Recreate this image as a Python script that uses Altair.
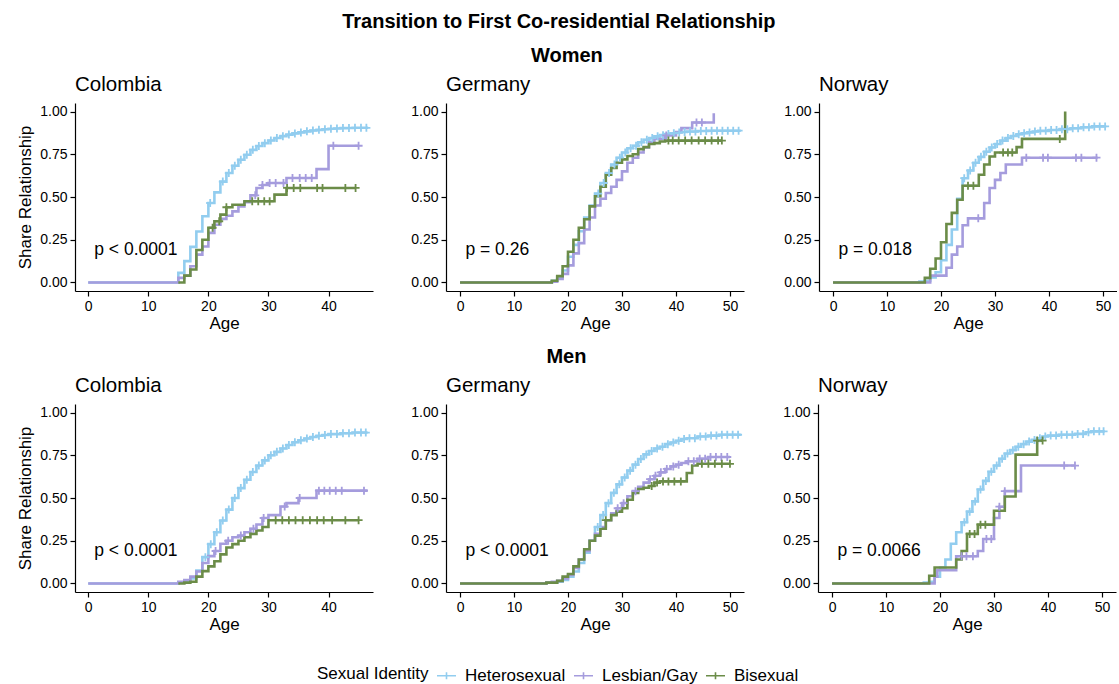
import altair as alt
import pandas as pd

FONT = "Liberation Sans"
GROUPS = ["Heterosexual", "Lesbian/Gay", "Bisexual"]
COLORS = ["#92CDEF", "#A59CDD", "#6B8C48"]
COUNTRIES = ["Colombia", "Germany", "Norway"]
SEXES = ["Women", "Men"]
PVAL_WOMEN = ["p < 0.0001", "p = 0.26", "p = 0.018"]
PVAL_MEN = ["p < 0.0001", "p < 0.0001", "p = 0.0066"]
Y_TICKS = [0.0, 0.25, 0.5, 0.75, 1.0]
X_TICKS_COL = [0, 10, 20, 30, 40]
X_TICKS_OTHER = [0, 10, 20, 30, 40, 50]

# ---------------- Women ----------------
# Colombia
w_col_het_t = [15, 16, 17, 18, 19, 20, 21, 22, 23, 24, 25, 26, 27, 28, 29, 30, 31, 32, 33, 34, 35, 36, 37, 38, 39, 40, 41, 42, 43, 44]
w_col_het_s = [0.056, 0.125, 0.208, 0.298, 0.387, 0.465, 0.527, 0.59, 0.64, 0.683, 0.718, 0.747, 0.776, 0.798, 0.815, 0.831, 0.845, 0.856, 0.865, 0.872, 0.878, 0.884, 0.889, 0.893, 0.896, 0.899, 0.901, 0.903, 0.904, 0.905]
w_col_het_c = [20.3, 22.4, 23.4, 24.4, 25.4, 26.4, 27.4, 28.4, 29.4, 30.4, 31.4, 32.4, 33.4, 34.4, 35.4, 36.4, 37.4, 38.4, 39.4, 40.4, 41.4, 42.4, 43.4, 44.4, 45.4, 46.3]
w_col_het_end = 46.6

w_col_les_t = [15, 16, 17, 18, 19, 20, 21, 22, 23, 24, 25, 26, 27, 28, 29, 30, 33, 38, 40]
w_col_les_s = [0.027, 0.04, 0.095, 0.163, 0.21, 0.29, 0.338, 0.372, 0.39, 0.416, 0.445, 0.47, 0.51, 0.553, 0.57, 0.582, 0.611, 0.663, 0.80]
w_col_les_c = [27.8, 29.0, 30.2, 31.2, 32.5, 34.0, 35.2, 36.2, 37.2, 40.8, 45.0]
w_col_les_end = 45.0

w_col_bi_t = [16, 17, 18, 19, 20, 21, 22, 23, 24, 26, 31, 33]
w_col_bi_s = [0.04, 0.076, 0.19, 0.25, 0.32, 0.358, 0.397, 0.44, 0.455, 0.475, 0.514, 0.553]
w_col_bi_c = [20.7, 21.8, 23.0, 27.3, 28.3, 29.3, 30.2, 33.1, 34.2, 35.3, 38.1, 39.0, 42.8, 44.5]
w_col_bi_end = 44.5

# Germany
w_deu_het_t = [17, 18, 19, 20, 21, 22, 23, 24, 25, 26, 27, 28, 29, 30, 31, 32, 33, 34, 35, 36, 37, 38, 39, 40, 41, 42, 44, 46]
w_deu_het_s = [0.01, 0.03, 0.07, 0.15, 0.22, 0.30, 0.38, 0.45, 0.52, 0.582, 0.64, 0.69, 0.73, 0.76, 0.785, 0.80, 0.82, 0.835, 0.845, 0.855, 0.862, 0.868, 0.873, 0.877, 0.88, 0.883, 0.886, 0.888]
w_deu_het_c = [25.6, 26.6, 27.6, 28.6, 29.6, 30.6, 31.6, 32.6, 33.6, 34.6, 35.6, 36.6, 37.6, 38.6, 39.6, 40.6, 41.6, 42.6, 43.6, 44.6, 45.6, 46.6, 47.6, 48.6, 49.6, 50.6, 51.6]
w_deu_het_end = 52.0

w_deu_les_t = [17, 18, 19, 20, 21, 22, 23, 24, 25, 26, 27, 28, 29, 30, 31, 32, 33, 34, 35, 36, 38, 40, 41, 43, 47]
w_deu_les_s = [0.005, 0.02, 0.05, 0.10, 0.17, 0.23, 0.31, 0.38, 0.45, 0.49, 0.523, 0.56, 0.60, 0.65, 0.70, 0.73, 0.76, 0.79, 0.82, 0.84, 0.86, 0.88, 0.903, 0.936, 0.99]
w_deu_les_c = [38.2, 43.8, 44.8]
w_deu_les_end = 47.0

w_deu_bi_t = [17, 18, 19, 20, 21, 22, 23, 24, 25, 26, 27, 28, 29, 30, 31, 32, 33, 34, 35, 36, 37, 38]
w_deu_bi_s = [0.01, 0.037, 0.095, 0.18, 0.25, 0.32, 0.37, 0.445, 0.504, 0.56, 0.63, 0.67, 0.70, 0.72, 0.74, 0.75, 0.78, 0.792, 0.81, 0.815, 0.825, 0.83]
w_deu_bi_c = [38.6, 39.4, 40.5, 41.7, 42.9, 44.2, 45.4, 46.6, 47.8, 48.5]
w_deu_bi_end = 48.5

# Norway
w_nor_het_t = [16, 17, 18, 19, 20, 21, 22, 23, 24, 25, 26, 27, 28, 29, 30, 31, 32, 33, 34, 35, 36, 37, 38, 40, 42, 44, 46, 48]
w_nor_het_s = [0.005, 0.01, 0.03, 0.06, 0.13, 0.22, 0.31, 0.49, 0.61, 0.655, 0.70, 0.735, 0.765, 0.79, 0.81, 0.83, 0.845, 0.857, 0.867, 0.873, 0.878, 0.883, 0.887, 0.892, 0.897, 0.902, 0.908, 0.913]
w_nor_het_c = [24.3, 25.4, 26.4, 27.4, 28.4, 29.4, 30.4, 31.4, 32.4, 33.4, 34.4, 35.4, 36.4, 37.4, 38.4, 39.4, 40.4, 41.4, 42.4, 43.4, 44.4, 45.4, 46.4, 47.4, 48.4, 49.4, 50.4]
w_nor_het_end = 50.6

w_nor_les_t = [18, 21, 22, 23, 24, 25, 28, 29, 30, 31, 32, 35]
w_nor_les_s = [0.04, 0.086, 0.163, 0.21, 0.335, 0.375, 0.465, 0.553, 0.60, 0.64, 0.69, 0.73]
w_nor_les_c = [26.9, 35.8, 38.9, 39.8, 45.0, 46.0, 48.8]
w_nor_les_end = 49.0

w_nor_bi_t = [17, 18, 19, 20, 21, 22, 23, 24, 27, 28, 29, 30, 34, 35, 43]
w_nor_bi_s = [0.027, 0.08, 0.14, 0.235, 0.342, 0.407, 0.484, 0.566, 0.63, 0.69, 0.737, 0.76, 0.792, 0.84, 1.00]
w_nor_bi_c = [25.0, 26.0, 31.5, 32.4, 33.2, 42.0]
w_nor_bi_end = 43.0

# ---------------- Men ----------------
# Colombia
m_col_het_t = [15, 16, 17, 18, 19, 20, 21, 22, 23, 24, 25, 26, 27, 28, 29, 30, 31, 32, 33, 34, 35, 36, 37, 38, 39, 40, 42, 44]
m_col_het_s = [0.005, 0.01, 0.03, 0.076, 0.154, 0.23, 0.30, 0.368, 0.432, 0.50, 0.558, 0.607, 0.652, 0.69, 0.72, 0.75, 0.77, 0.79, 0.81, 0.826, 0.838, 0.848, 0.857, 0.864, 0.869, 0.874, 0.879, 0.883]
m_col_het_c = [19.5, 20.4, 21.4, 22.4, 23.4, 24.4, 25.4, 26.4, 27.4, 28.4, 29.4, 30.4, 31.4, 32.4, 33.4, 34.4, 35.4, 36.4, 37.4, 38.4, 39.4, 40.4, 41.4, 42.4, 43.4, 44.4, 45.4, 46.2]
m_col_het_end = 46.5

m_col_les_t = [15, 16, 17, 18, 19, 20, 21, 22, 23, 24, 25, 26, 27, 28, 29, 30, 32, 33, 35, 38]
m_col_les_s = [0.01, 0.02, 0.04, 0.07, 0.12, 0.16, 0.19, 0.232, 0.25, 0.27, 0.28, 0.30, 0.32, 0.345, 0.383, 0.40, 0.45, 0.47, 0.50, 0.543]
m_col_les_c = [21.2, 23.3, 25.4, 27.5, 29.2, 32.7, 35.2, 38.4, 39.3, 40.2, 41.2, 42.2, 45.9]
m_col_les_end = 46.5

m_col_bi_t = [16, 17, 18, 19, 20, 21, 22, 23, 24, 25, 26, 27, 28, 29, 30]
m_col_bi_s = [0.005, 0.01, 0.04, 0.072, 0.10, 0.13, 0.17, 0.21, 0.23, 0.25, 0.27, 0.29, 0.31, 0.33, 0.37]
m_col_bi_c = [31.2, 32.3, 33.4, 34.5, 35.7, 36.9, 38.1, 39.2, 40.6, 42.8, 45.0]
m_col_bi_end = 45.0

# Germany
m_deu_het_t = [16, 18, 19, 20, 21, 22, 23, 24, 25, 26, 27, 28, 29, 30, 31, 32, 33, 34, 35, 36, 37, 38, 39, 40, 41, 42, 44, 46, 48]
m_deu_het_s = [0.005, 0.01, 0.02, 0.04, 0.07, 0.12, 0.18, 0.25, 0.33, 0.40, 0.47, 0.53, 0.58, 0.62, 0.66, 0.695, 0.728, 0.755, 0.775, 0.79, 0.80, 0.815, 0.825, 0.835, 0.845, 0.85, 0.86, 0.865, 0.87]
m_deu_het_c = [25.5, 26.5, 27.5, 28.5, 29.5, 30.5, 31.5, 32.5, 33.5, 34.5, 35.5, 36.5, 37.5, 38.5, 39.5, 40.5, 41.5, 42.5, 43.5, 44.5, 45.5, 46.5, 47.5, 48.5, 49.5, 50.5, 51.5]
m_deu_het_end = 52.0

m_deu_les_t = [16, 17, 18, 19, 20, 21, 22, 23, 24, 25, 26, 27, 28, 29, 30, 31, 32, 33, 34, 35, 36, 37, 38, 39, 40, 41, 42, 44, 46]
m_deu_les_s = [0.005, 0.01, 0.015, 0.03, 0.05, 0.09, 0.14, 0.19, 0.25, 0.29, 0.33, 0.37, 0.41, 0.44, 0.47, 0.51, 0.54, 0.565, 0.59, 0.61, 0.63, 0.65, 0.67, 0.685, 0.695, 0.705, 0.715, 0.73, 0.74]
m_deu_les_c = [29.2, 30.3, 32.5, 35.2, 36.2, 37.2, 38.3, 39.5, 40.5, 42.3, 43.3, 44.4, 45.4, 46.4, 47.4, 48.4, 49.5]
m_deu_les_end = 50.0

m_deu_bi_t = [16, 18, 19, 20, 21, 22, 23, 24, 25, 26, 27, 28, 29, 30, 31, 32, 33, 34, 35, 36, 37, 42, 43, 44]
m_deu_bi_s = [0.005, 0.015, 0.04, 0.055, 0.10, 0.14, 0.20, 0.25, 0.28, 0.32, 0.37, 0.40, 0.42, 0.44, 0.49, 0.53, 0.553, 0.56, 0.57, 0.59, 0.597, 0.646, 0.69, 0.70]
m_deu_bi_c = [27.0, 35.5, 36.5, 37.6, 38.6, 39.7, 40.9, 44.8, 46.0, 47.2, 48.5, 50.0]
m_deu_bi_end = 50.0

# Norway
m_nor_het_t = [17, 18, 19, 20, 21, 22, 23, 24, 25, 26, 27, 28, 29, 30, 31, 32, 33, 34, 35, 36, 37, 38, 39, 40, 42, 45, 47, 48]
m_nor_het_s = [0.005, 0.01, 0.04, 0.093, 0.14, 0.232, 0.30, 0.358, 0.42, 0.48, 0.55, 0.60, 0.654, 0.69, 0.73, 0.76, 0.78, 0.80, 0.815, 0.83, 0.84, 0.85, 0.86, 0.865, 0.87, 0.875, 0.885, 0.89]
m_nor_het_c = [24.5, 25.5, 26.5, 27.5, 28.5, 29.5, 30.5, 31.5, 32.5, 33.5, 34.5, 35.5, 36.5, 37.5, 38.5, 39.5, 40.5, 41.5, 42.5, 43.5, 44.5, 45.5, 46.5, 47.5, 48.5, 49.5, 50.3]
m_nor_het_end = 50.5

m_nor_les_t = [19, 19.5, 23, 27, 28, 30, 31, 32, 35]
m_nor_les_s = [0.04, 0.077, 0.159, 0.19, 0.26, 0.383, 0.449, 0.54, 0.69]
m_nor_les_c = [24.0, 24.9, 26.1, 28.6, 29.5, 31.0, 32.0, 43.0, 45.0]
m_nor_les_end = 45.0

m_nor_bi_t = [18, 19, 23, 24, 25, 27, 30, 32, 34, 38]
m_nor_bi_s = [0.045, 0.093, 0.14, 0.19, 0.29, 0.344, 0.425, 0.509, 0.754, 0.836]
m_nor_bi_c = [25.5, 26.4, 27.5, 28.4, 38.0, 39.0]
m_nor_bi_end = 39.0

# (sex, country, group, start age, event ages, values, censor ages, end age)
SERIES = [
    ("Women", "Colombia", "Heterosexual", 0, w_col_het_t, w_col_het_s, w_col_het_c, w_col_het_end),
    ("Women", "Colombia", "Lesbian/Gay", 0, w_col_les_t, w_col_les_s, w_col_les_c, w_col_les_end),
    ("Women", "Colombia", "Bisexual", 15, w_col_bi_t, w_col_bi_s, w_col_bi_c, w_col_bi_end),
    ("Women", "Germany", "Heterosexual", 0, w_deu_het_t, w_deu_het_s, w_deu_het_c, w_deu_het_end),
    ("Women", "Germany", "Lesbian/Gay", 0, w_deu_les_t, w_deu_les_s, w_deu_les_c, w_deu_les_end),
    ("Women", "Germany", "Bisexual", 0, w_deu_bi_t, w_deu_bi_s, w_deu_bi_c, w_deu_bi_end),
    ("Women", "Norway", "Heterosexual", 0, w_nor_het_t, w_nor_het_s, w_nor_het_c, w_nor_het_end),
    ("Women", "Norway", "Lesbian/Gay", 0, w_nor_les_t, w_nor_les_s, w_nor_les_c, w_nor_les_end),
    ("Women", "Norway", "Bisexual", 0, w_nor_bi_t, w_nor_bi_s, w_nor_bi_c, w_nor_bi_end),
    ("Men", "Colombia", "Heterosexual", 0, m_col_het_t, m_col_het_s, m_col_het_c, m_col_het_end),
    ("Men", "Colombia", "Lesbian/Gay", 0, m_col_les_t, m_col_les_s, m_col_les_c, m_col_les_end),
    ("Men", "Colombia", "Bisexual", 15, m_col_bi_t, m_col_bi_s, m_col_bi_c, m_col_bi_end),
    ("Men", "Germany", "Heterosexual", 0, m_deu_het_t, m_deu_het_s, m_deu_het_c, m_deu_het_end),
    ("Men", "Germany", "Lesbian/Gay", 0, m_deu_les_t, m_deu_les_s, m_deu_les_c, m_deu_les_end),
    ("Men", "Germany", "Bisexual", 0, m_deu_bi_t, m_deu_bi_s, m_deu_bi_c, m_deu_bi_end),
    ("Men", "Norway", "Heterosexual", 0, m_nor_het_t, m_nor_het_s, m_nor_het_c, m_nor_het_end),
    ("Men", "Norway", "Lesbian/Gay", 0, m_nor_les_t, m_nor_les_s, m_nor_les_c, m_nor_les_end),
    ("Men", "Norway", "Bisexual", 0, m_nor_bi_t, m_nor_bi_s, m_nor_bi_c, m_nor_bi_end),
]


def step_value(ts, ss, t):
    v = 0.0
    for a, b in zip(ts, ss):
        if a <= t:
            v = b
    return v


line_rows, cens_rows = [], []
for sex, country, grp, start, ts, ss, cs, end in SERIES:
    gi = GROUPS.index(grp)
    pts = [(start, 0.0)] + list(zip(ts, ss)) + [(end, ss[-1])]
    for k, (a, b) in enumerate(pts):
        line_rows.append(dict(sex=sex, country=country, group=grp, gi=gi, k=k, age=a, share=b))
    for c in cs:
        cens_rows.append(dict(sex=sex, country=country, group=grp, gi=gi, age=c, share=step_value(ts, ss, c)))
lines = pd.DataFrame(line_rows)
cens = pd.DataFrame(cens_rows)

color_scale = alt.Scale(domain=GROUPS, range=COLORS)
LEG = alt.Legend(
    title="Sexual Identity", orient="none", legendX=242, legendY=562,
    direction="horizontal", titleOrient="left", titleAnchor="middle", titleBaseline="middle",
    symbolType="M-1,0H1M0,-0.38V0.38", symbolSize=361, symbolStrokeWidth=1.6,
    labelFontSize=17, titleFontSize=17, titleFontWeight="normal", labelFont=FONT, titleFont=FONT,
    labelColor="#000000", titleColor="#000000", labelOffset=8, columnPadding=4, titlePadding=7,
)
CROSS = "M-1,0H1M0,-1V1"


def panel(sex, ci):
    country = COUNTRIES[ci]
    ld = lines[(lines.sex == sex) & (lines.country == country)]
    cd = cens[(cens.sex == sex) & (cens.country == country)]
    if country == "Colombia":
        xdom, xticks = [-2.2, 47.4], X_TICKS_COL
    else:
        xdom, xticks = [-2.6, 52.6], X_TICKS_OTHER
    pv = (PVAL_WOMEN if sex == "Women" else PVAL_MEN)[ci]
    xenc = alt.X("age:Q", scale=alt.Scale(domain=xdom, nice=False, zero=False),
                 axis=alt.Axis(values=xticks, title="Age", format="d"))
    if ci == 0:
        yaxis = alt.Axis(values=Y_TICKS, format=".2f", title="Share Relationship", titlePadding=5)
    else:
        yaxis = alt.Axis(values=Y_TICKS, format=".2f", title=None)
    yenc = alt.Y("share:Q", scale=alt.Scale(domain=[-0.05, 1.05], nice=False, zero=False), axis=yaxis)
    base_line = alt.Chart(ld).mark_line(interpolate="step-after", strokeWidth=2.6).encode(
        x=xenc, y=yenc,
        color=alt.Color("group:N", scale=color_scale, legend=LEG, sort=GROUPS),
        order="k:Q",
    )
    pts = alt.Chart(cd).mark_point(shape=CROSS, filled=False, size=64, strokeWidth=1.8, opacity=1).encode(
        x="age:Q", y="share:Q",
        color=alt.Color("group:N", scale=color_scale, legend=LEG, sort=GROUPS),
    )
    txt = alt.Chart(pd.DataFrame({"age": [1.0], "share": [0.19], "label": [pv]})).mark_text(
        align="left", baseline="middle", fontSize=17.5, font=FONT, color="#000000"
    ).encode(x="age:Q", y="share:Q", text="label:N")
    return alt.layer(base_line, pts, txt).properties(
        width=298, height=188,
        title=alt.TitleParams(country, anchor="start", frame="group", fontSize=20.5,
                              fontWeight="normal", font=FONT, color="#000000", offset=8),
    )


def row(sex):
    return alt.hconcat(*[panel(sex, i) for i in range(3)], spacing=36).properties(
        title=alt.TitleParams(sex, anchor="middle", fontSize=20, fontWeight="bold",
                              font=FONT, color="#000000", offset=9)
    )


chart = alt.vconcat(row("Women"), row("Men"), spacing=15).properties(
    title=alt.TitleParams("Transition to First Co-residential Relationship", anchor="middle",
                          fontSize=20, fontWeight="bold", font=FONT, color="#000000", offset=14, dx=-8),
    padding={"left": 16, "top": 11, "right": 0, "bottom": 0},
    background="white",
).configure_view(stroke=None).configure_axis(
    grid=False, domainColor="#000000", domainWidth=1.2, tickColor="#000000", tickWidth=1.2,
    tickSize=5, labelFontSize=14, labelFont=FONT, labelColor="#000000", labelPadding=3,
    titleFontSize=17, titleFont=FONT, titleColor="#000000", titleFontWeight="normal", titlePadding=2,
)

chart.save("out.html", embed_options={"renderer": "svg", "actions": False})
